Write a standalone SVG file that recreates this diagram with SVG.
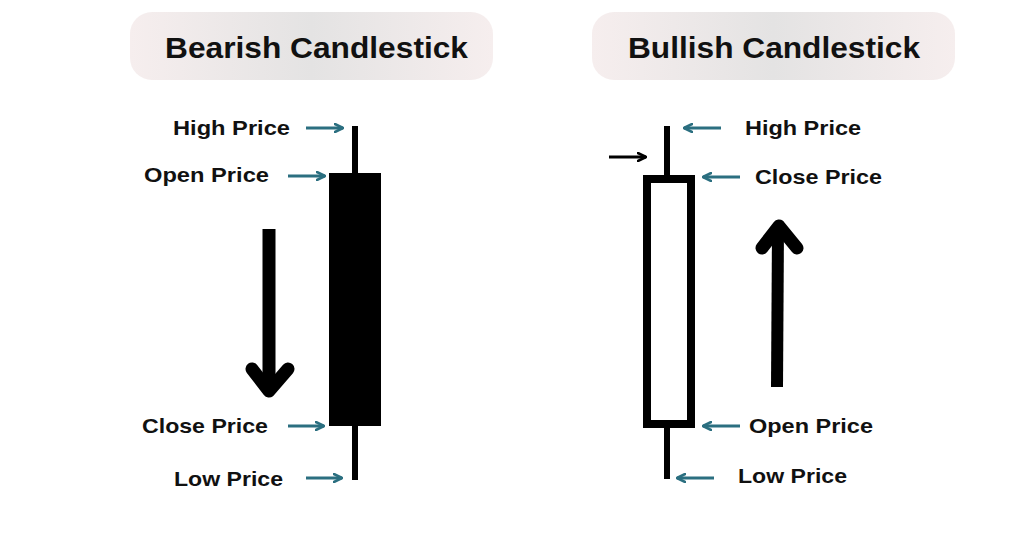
<svg xmlns="http://www.w3.org/2000/svg" width="1024" height="538" viewBox="0 0 1024 538">
<defs>
<linearGradient id="pill" x1="0" y1="0" x2="1" y2="0">
<stop offset="0" stop-color="#f6eeee"/>
<stop offset="0.5" stop-color="#e4e3e3"/>
<stop offset="1" stop-color="#f6eeee"/>
</linearGradient>
<marker id="tealR" viewBox="0 0 10 10" refX="9" refY="5" markerWidth="10" markerHeight="10" markerUnits="userSpaceOnUse" orient="auto">
<path d="M1,1 L9,5 L1,9" fill="none" stroke="#2b6f80" stroke-width="2.6" stroke-linecap="round" stroke-linejoin="round"/>
</marker>
<marker id="blackR" viewBox="0 0 10 10" refX="9" refY="5" markerWidth="10" markerHeight="10" markerUnits="userSpaceOnUse" orient="auto">
<path d="M1,1 L9,5 L1,9" fill="none" stroke="#000" stroke-width="2.6" stroke-linecap="round" stroke-linejoin="round"/>
</marker>
</defs>
<style>
.title{font-family:"Liberation Sans",Arial,sans-serif;font-weight:bold;font-size:29px;fill:#111;}
.lbl{font-family:"Liberation Sans",Arial,sans-serif;font-weight:bold;font-size:21px;fill:#111;}
.teal{stroke:#2b6f80;stroke-width:2.8;fill:none;marker-end:url(#tealR);}
.big{stroke:#000;stroke-width:13;fill:none;stroke-linecap:round;stroke-linejoin:round;}
</style>
<rect width="1024" height="538" fill="#fff"/>

<g id="bearish-title">
<rect x="130" y="12" width="363" height="68" rx="22" fill="url(#pill)"/>
<text class="title" x="165" y="58" textLength="303" lengthAdjust="spacingAndGlyphs">Bearish Candlestick</text>
</g>
<g id="bullish-title">
<rect x="592" y="12" width="363" height="68" rx="22" fill="url(#pill)"/>
<text class="title" x="628" y="58" textLength="292" lengthAdjust="spacingAndGlyphs">Bullish Candlestick</text>
</g>

<g id="bearish-candle">
<rect x="352" y="126" width="6" height="354" fill="#000"/>
<rect x="329" y="173" width="52" height="253" fill="#000"/>
</g>

<g id="bullish-candle">
<rect x="664" y="126" width="6" height="353" fill="#000"/>
<rect x="647" y="179" width="44" height="245" fill="#fff" stroke="#000" stroke-width="8"/>
</g>

<g id="bearish-labels">
<text class="lbl" x="173" y="135" textLength="117" lengthAdjust="spacingAndGlyphs">High Price</text>
<text class="lbl" x="144" y="182" textLength="125" lengthAdjust="spacingAndGlyphs">Open Price</text>
<text class="lbl" x="142" y="433" textLength="126" lengthAdjust="spacingAndGlyphs">Close Price</text>
<text class="lbl" x="174" y="486" textLength="109" lengthAdjust="spacingAndGlyphs">Low Price</text>
</g>

<g id="bullish-labels">
<text class="lbl" x="745" y="135" textLength="116" lengthAdjust="spacingAndGlyphs">High Price</text>
<text class="lbl" x="755" y="184" textLength="127" lengthAdjust="spacingAndGlyphs">Close Price</text>
<text class="lbl" x="749" y="433" textLength="124" lengthAdjust="spacingAndGlyphs">Open Price</text>
<text class="lbl" x="738" y="483" textLength="109" lengthAdjust="spacingAndGlyphs">Low Price</text>
</g>

<g id="connectors">
<line class="teal" x1="306" y1="128" x2="343" y2="128"/>
<line class="teal" x1="288" y1="176" x2="325" y2="176"/>
<line class="teal" x1="288" y1="426" x2="324" y2="426"/>
<line class="teal" x1="306" y1="478" x2="342" y2="478"/>
<line class="teal" x1="721" y1="128" x2="684" y2="128"/>
<line class="teal" x1="740" y1="177" x2="703" y2="177"/>
<line class="teal" x1="740" y1="426" x2="703" y2="426"/>
<line class="teal" x1="714" y1="478" x2="677" y2="478"/>
<line x1="609" y1="157" x2="646" y2="157" stroke="#000" stroke-width="2.8" marker-end="url(#blackR)"/>
</g>

<g id="down-arrow">
<path d="M269,229 L269,388" stroke="#000" stroke-width="13" fill="none"/>
<path class="big" d="M252,369 L269,391 L288,369"/>
</g>
<g id="up-arrow">
<path d="M777,387 L778,228" stroke="#000" stroke-width="12" fill="none"/>
<path class="big" d="M762,248 L779,226 L797,248"/>
</g>
</svg>
